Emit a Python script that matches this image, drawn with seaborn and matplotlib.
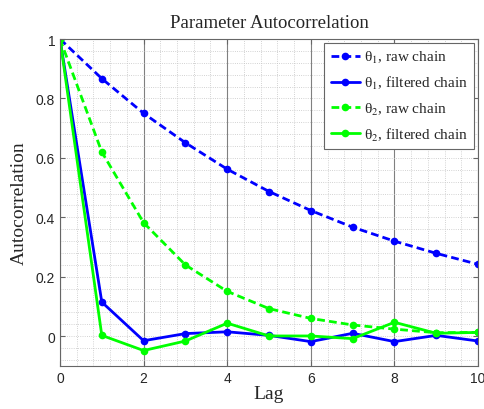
import numpy as np
import pandas as pd
import seaborn as sns
import matplotlib.pyplot as plt
from matplotlib.ticker import MultipleLocator

lags = list(range(11))
theta1_raw = [1.0, 0.867, 0.750, 0.651, 0.562, 0.487, 0.423, 0.367, 0.320, 0.279, 0.242]
theta1_filtered = [1.0, 0.115, -0.015, 0.009, 0.015, 0.003, -0.018, 0.010, -0.018, 0.003, -0.016]
theta2_raw = [1.0, 0.620, 0.382, 0.240, 0.151, 0.093, 0.060, 0.038, 0.024, 0.012, 0.013]
theta2_filtered = [1.0, 0.003, -0.048, -0.016, 0.044, 0.001, 0.001, -0.008, 0.047, 0.010, 0.013]

series_labels = [r'θ$_1$, raw chain', r'θ$_1$, filtered chain',
                 r'θ$_2$, raw chain', r'θ$_2$, filtered chain']


def generate_plot():
    sns.set_style("ticks")
    plt.rcParams['font.family'] = ['Liberation Serif', 'DejaVu Serif']
    plt.rcParams['mathtext.fontset'] = 'stix'
    plt.rcParams['lines.dashed_pattern'] = (2.8, 1.5)

    df = pd.DataFrame({
        'Lag': lags * 4,
        'Autocorrelation': theta1_raw + theta1_filtered + theta2_raw + theta2_filtered,
        'Series': np.repeat(series_labels, len(lags)),
    })

    fig = plt.figure(figsize=(4.85, 4.1), dpi=100)
    ax = fig.add_axes([0.1237, 0.1049, 0.862, 0.7975])

    styles = {
        series_labels[0]: ('#0000ff', '--'),
        series_labels[1]: ('#0000ff', '-'),
        series_labels[2]: ('#00ff00', '--'),
        series_labels[3]: ('#00ff00', '-'),
    }
    for name in series_labels:
        color, ls = styles[name]
        sns.lineplot(data=df[df['Series'] == name], x='Lag', y='Autocorrelation',
                     ax=ax, color=color, linestyle=ls, linewidth=2,
                     marker='o', markersize=5.5, markeredgewidth=0,
                     label=name)

    ax.set_xlim(0, 10)
    ax.set_ylim(-0.1, 1)
    ax.xaxis.set_major_locator(MultipleLocator(2))
    ax.xaxis.set_minor_locator(MultipleLocator(0.4))
    ax.yaxis.set_major_locator(MultipleLocator(0.2))
    ax.yaxis.set_minor_locator(MultipleLocator(0.04))
    ax.set_yticks([0, 0.2, 0.4, 0.6, 0.8, 1.0])
    ax.set_yticklabels(['0', '0.2', '0.4', '0.6', '0.8', '1'])
    for lab in ax.get_xticklabels() + ax.get_yticklabels():
        lab.set_fontfamily('Liberation Sans')
        lab.set_fontsize(10)

    ax.grid(True, which='minor', linestyle=':', linewidth=0.6, color='#c4c4c4')
    ax.grid(True, which='major', axis='y', linestyle=':', linewidth=0.6, color='#c4c4c4')
    ax.grid(True, which='major', axis='x', linestyle='-', linewidth=0.8, color='#808080')
    ax.set_axisbelow(True)
    ax.tick_params(which='both', direction='in', top=True, right=True, color='#666666')
    ax.tick_params(which='minor', length=0)
    for sp in ax.spines.values():
        sp.set_color('#666666')

    ax.set_title('Parameter Autocorrelation', fontsize=13.5, pad=9)
    ax.set_xlabel('Lag', fontsize=14, labelpad=0)
    ax.set_ylabel('Autocorrelation', fontsize=14, labelpad=6)

    leg = ax.legend(loc='upper right', fontsize=11, fancybox=False, framealpha=1,
                    edgecolor='#666666', handlelength=1.9, borderpad=0.4,
                    labelspacing=0.6, handletextpad=0.3, borderaxespad=0.25)
    leg.get_frame().set_linewidth(0.8)

    fig.savefig('out.png', dpi=100)


if __name__ == '__main__':
    generate_plot()
